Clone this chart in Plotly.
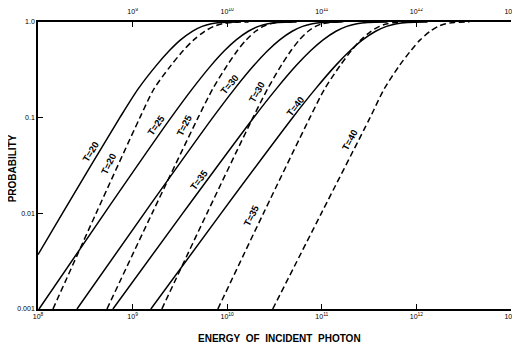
import plotly.graph_objects as go

# Probability levels at which curve energies were read
P_LEVELS = [0.001, 0.01, 0.1, 0.2, 0.35, 0.5, 0.65, 0.8, 0.9, 0.96, 0.99, 1.0]
P_LEVELS_T20_SOLID = [0.0037, 0.01, 0.1, 0.2, 0.35, 0.5, 0.65, 0.8, 0.9, 0.96, 0.99, 1.0]

# log10(energy of incident photon) for each curve at the levels above
logE_T20_solid = [8.000, 8.258, 8.865, 9.059, 9.249, 9.387, 9.507, 9.631, 9.735, 9.832, 9.935, 10.126]
logE_T20_dashed = [8.158, 8.614, 9.077, 9.226, 9.404, 9.533, 9.646, 9.762, 9.859, 9.950, 10.047, 10.226]
logE_T25_solid = [8.011, 8.702, 9.406, 9.631, 9.828, 9.970, 10.095, 10.223, 10.330, 10.430, 10.538, 10.734]
logE_T25_dashed = [8.729, 9.206, 9.692, 9.847, 9.998, 10.106, 10.201, 10.299, 10.381, 10.457, 10.539, 10.689]
logE_T30_solid = [8.412, 9.123, 9.847, 10.078, 10.281, 10.427, 10.555, 10.687, 10.797, 10.900, 11.010, 11.213]
logE_T30_dashed = [9.309, 9.786, 10.272, 10.427, 10.570, 10.673, 10.763, 10.856, 10.934, 11.007, 11.084, 11.227]
logE_T35_solid = [8.792, 9.529, 10.279, 10.519, 10.729, 10.881, 11.014, 11.150, 11.264, 11.371, 11.486, 11.696]
logE_T35_dashed = [9.901, 10.383, 10.874, 11.030, 11.193, 11.311, 11.414, 11.520, 11.609, 11.692, 11.781, 11.944]
logE_T40_solid = [9.193, 9.935, 10.691, 10.933, 11.145, 11.298, 11.431, 11.569, 11.684, 11.792, 11.907, 12.118]
logE_T40_dashed = [10.481, 10.995, 11.510, 11.660, 11.820, 11.940, 12.040, 12.145, 12.230, 12.310, 12.400, 12.560]

X_TICKS = [1e8, 1e9, 1e10, 1e11, 1e12, 1e13]
X_TICK_TEXT = ["10<sup>8</sup>", "10<sup>9</sup>", "10<sup>10</sup>", "10<sup>11</sup>", "10<sup>12</sup>", "10<sup>13</sup>"]
TOP_TICKS = [1e9, 1e10, 1e11, 1e12, 1e13]
TOP_TICK_TEXT = ["10<sup>9</sup>", "10<sup>10</sup>", "10<sup>11</sup>", "10<sup>12</sup>", "10<sup>13</sup>"]
Y_TICKS = [0.001, 0.01, 0.1, 1.0]
Y_TICK_TEXT = ["0.001", "0.01", "0.1", "1.0"]

curves = [
    ("T=20 solid", logE_T20_solid, P_LEVELS_T20_SOLID, "solid"),
    ("T=20 dashed", logE_T20_dashed, P_LEVELS, "dashed"),
    ("T=25 solid", logE_T25_solid, P_LEVELS, "solid"),
    ("T=25 dashed", logE_T25_dashed, P_LEVELS, "dashed"),
    ("T=30 solid", logE_T30_solid, P_LEVELS, "solid"),
    ("T=30 dashed", logE_T30_dashed, P_LEVELS, "dashed"),
    ("T=35 solid", logE_T35_solid, P_LEVELS, "solid"),
    ("T=35 dashed", logE_T35_dashed, P_LEVELS, "dashed"),
    ("T=40 solid", logE_T40_solid, P_LEVELS, "solid"),
    ("T=40 dashed", logE_T40_dashed, P_LEVELS, "dashed"),
]

# curve labels: (text, log10 E, log10 P, angle)
labels = [
    ("T=20", 8.560, -1.358, -58),
    ("T=20", 8.750, -1.484, -64),
    ("T=25", 9.255, -1.076, -55),
    ("T=25", 9.552, -1.076, -63),
    ("T=30", 10.025, -0.658, -50),
    ("T=30", 10.318, -0.731, -60),
    ("T=35", 9.705, -1.651, -53),
    ("T=35", 10.262, -2.017, -63),
    ("T=40", 10.715, -0.878, -52),
    ("T=40", 11.300, -1.233, -62),
]

fig = go.Figure()
for name, lx, p, style in curves:
    fig.add_trace(go.Scatter(
        x=[10 ** v for v in lx], y=p, mode="lines", name=name,
        line=dict(color="black", width=1.5, shape="spline", smoothing=0.8,
                  dash="solid" if style == "solid" else "6px,3.5px"),
        cliponaxis=True, showlegend=False, hoverinfo="skip",
    ))

FONT = "Liberation Sans"
ann = []
for text, lx, lp, ang in labels:
    ann.append(dict(x=lx, y=lp, xref="x", yref="y", text="<b>" + text + "</b>",
                    showarrow=False, textangle=ang, xanchor="center", yanchor="middle",
                    font=dict(family=FONT, size=9.5, color="black")))
ann.append(dict(x=-0.055, y=0.49, xref="paper", yref="paper", text="<b>PROBABILITY</b>",
                showarrow=False, textangle=-90, xanchor="center", yanchor="middle",
                font=dict(family=FONT, size=10, color="black")))
ann.append(dict(x=0.51, y=-0.102, xref="paper", yref="paper",
                text="<b>ENERGY&nbsp;&nbsp;OF&nbsp;&nbsp;INCIDENT&nbsp;&nbsp;PHOTON</b>",
                showarrow=False, xanchor="center", yanchor="middle",
                font=dict(family=FONT, size=10, color="black")))

axis_common = dict(type="log", ticks="inside", ticklen=5, tickwidth=1.2, tickcolor="black",
                   showline=True, linecolor="black", linewidth=1.6, showgrid=False,
                   zeroline=False, automargin=False,
                   tickfont=dict(family=FONT, size=7, color="black"))

# The page body adds an 8px offset, so the figure is 8px smaller than the window
fig.update_layout(
    template="none",
    width=512, height=340,
    margin=dict(l=30, r=9, t=14, b=39, autoexpand=False),
    paper_bgcolor="white", plot_bgcolor="white",
    showlegend=False,
    annotations=ann,
    xaxis=dict(range=[8, 13], tickvals=X_TICKS, ticktext=X_TICK_TEXT, **axis_common),
    xaxis2=dict(range=[8, 13], overlaying="x", side="top", anchor="y",
                tickvals=TOP_TICKS, ticktext=TOP_TICK_TEXT, ticklabelstandoff=3, **axis_common),
    yaxis=dict(range=[-3, 0], tickvals=Y_TICKS, ticktext=Y_TICK_TEXT, **axis_common),
)
fig.add_trace(go.Scatter(x=[None], y=[None], xaxis="x2", yaxis="y", showlegend=False,
                         hoverinfo="skip", mode="lines"))

fig.write_html("out.html")
